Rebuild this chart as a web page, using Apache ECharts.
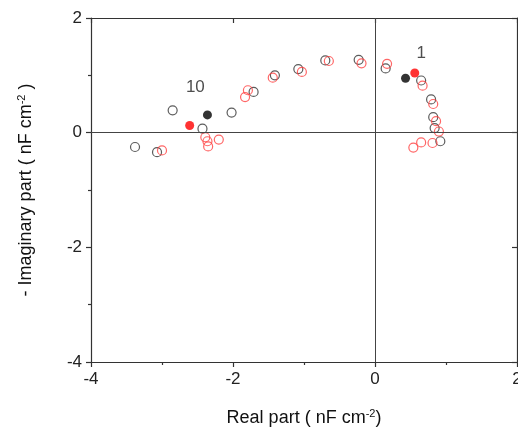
<!DOCTYPE html>
<html lang="en">
<head>
  <meta charset="UTF-8">
  <title>Nyquist</title>
  <style>
    html, body { margin: 0; padding: 0; background: #fff; }
    #main { width: 518px; height: 432px; }
  </style>
</head>
<body>
  <div id="main"></div>
  <script src="https://cdn.jsdelivr.net/npm/echarts@6/dist/echarts.min.js"></script>
  <script>
    // 黑色空心点 [实部, 虚部]
    var blackOpen = [
      [-3.38, -0.25], [-3.07, -0.34], [-2.85, 0.39], [-2.43, 0.07], [-2.02, 0.35],
      [-1.71, 0.71], [-1.41, 1.0], [-1.08, 1.11], [-0.70, 1.26], [-0.23, 1.27],
      [0.15, 1.12], [0.65, 0.91], [0.79, 0.58], [0.82, 0.27], [0.84, 0.08], [0.92, -0.15]
    ];
    // 红色空心点
    var redOpen = [
      [-3.0, -0.31], [-2.39, -0.08], [-2.36, -0.15], [-2.35, -0.24], [-2.2, -0.12],
      [-1.83, 0.62], [-1.79, 0.74], [-1.44, 0.96], [-1.03, 1.06], [-0.65, 1.25],
      [-0.19, 1.21], [0.17, 1.2], [0.67, 0.82], [0.82, 0.5], [0.86, 0.2],
      [0.9, 0.02], [0.81, -0.18], [0.65, -0.17], [0.54, -0.26]
    ];
    var blackFilled = [[-2.36, 0.31], [0.43, 0.95]];
    var redFilled = [[-2.61, 0.125], [0.56, 1.04]];
    // 标注文字
    var notes = [{ name: '10', value: [-2.53, 0.79] }, { name: '1', value: [0.65, 1.39] }];

    var xTicks = [-4, -2, 0, 2];
    var yTicks = [-4, -2, 0, 2];

    var font = 'Liberation Sans, Arial, sans-serif';
    var axisColor = '#333';

    var myChart = echarts.init(document.getElementById('main'));

    function baseAxis(extra) {
      return Object.assign({
        type: 'value',
        min: -4,
        max: 2,
        interval: 2,
        axisLine: { show: true, onZero: false, lineStyle: { color: axisColor, width: 1.2 } },
        axisTick: { show: true, length: 5, lineStyle: { color: axisColor, width: 1.2 } },
        minorTick: { show: true, splitNumber: 2, length: 3, lineStyle: { color: axisColor, width: 1.2 } },
        splitLine: { show: false },
        axisLabel: { show: false }
      }, extra);
    }

    function openSeries(data, color) {
      return {
        type: 'scatter',
        data: data,
        symbol: 'circle',
        symbolSize: 9,
        itemStyle: { color: 'rgba(255,255,255,0)', borderColor: color, borderWidth: 1.2 },
        z: 3
      };
    }

    function filledSeries(data, color) {
      return {
        type: 'scatter',
        data: data,
        symbol: 'circle',
        symbolSize: 9,
        itemStyle: { color: color },
        z: 4
      };
    }

    myChart.setOption({
      animation: false,
      backgroundColor: '#fff',
      grid: { left: 91, right: 1, top: 18, bottom: 70, outerBoundsMode: 'none', containLabel: false },
      xAxis: [
        baseAxis({
          position: 'bottom',
          name: '{t|Real part ( nF cm}{s|-2}{t|)}',
          nameLocation: 'middle',
          nameGap: 46,
          nameTextStyle: {
            rich: {
              t: { fontFamily: font, fontSize: 18, color: '#111' },
              s: { fontFamily: font, fontSize: 11, color: '#111', verticalAlign: 'top', padding: [0, 0, 10, 0] }
            }
          },
          axisLabel: {
            show: true, margin: 9, fontFamily: font, fontSize: 17, color: '#222',
            formatter: function (v) { return xTicks.indexOf(v) >= 0 ? String(v) : ''; }
          }
        }),
        baseAxis({
          position: 'top',
          axisTick: { show: true, inside: true, length: 5, lineStyle: { color: axisColor, width: 1.2 } },
          minorTick: { show: false }
        })
      ],
      yAxis: [
        baseAxis({
          position: 'left',
          name: '{t|- Imaginary part ( nF cm}{s|-2}{t| )}',
          nameLocation: 'middle',
          nameGap: 54,
          nameRotate: 90,
          nameTextStyle: {
            rich: {
              t: { fontFamily: font, fontSize: 18, color: '#111' },
              s: { fontFamily: font, fontSize: 11, color: '#111', verticalAlign: 'top', padding: [0, 0, 10, 0] }
            }
          },
          axisLabel: {
            show: true, margin: 9, fontFamily: font, fontSize: 17, color: '#222',
            formatter: function (v) { return yTicks.indexOf(v) >= 0 ? String(v) : ''; }
          }
        }),
        baseAxis({
          position: 'right',
          axisTick: { show: true, inside: true, length: 5, lineStyle: { color: axisColor, width: 1.2 } },
          minorTick: { show: false }
        })
      ],
      series: [
        {
          type: 'scatter',
          data: [],
          markLine: {
            silent: true,
            symbol: 'none',
            label: { show: false },
            lineStyle: { color: '#444', width: 1, type: 'solid' },
            data: [{ xAxis: 0 }, { yAxis: 0 }]
          }
        },
        openSeries(blackOpen, '#333'),
        openSeries(redOpen, '#ff4040'),
        filledSeries(blackFilled, '#000'),
        filledSeries(redFilled, '#ff0000'),
        {
          type: 'scatter',
          data: notes,
          symbolSize: 0,
          label: {
            show: true,
            position: 'inside',
            formatter: '{b}',
            fontFamily: font,
            fontSize: 17,
            color: '#222'
          }
        }
      ]
    });
  </script>
</body>
</html>
